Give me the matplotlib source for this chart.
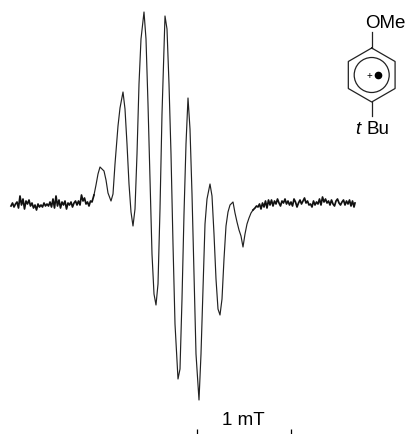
import numpy as np
import matplotlib
matplotlib.use('Agg')
import matplotlib.pyplot as plt

# trace (field position, signal above the baseline)
left_x = [11, 12.5, 14, 15.5, 17, 18.5, 20, 21.5, 23, 24.5, 26, 27.5, 29, 30.5, 32, 33.5, 35, 36.5, 38, 39.5,
          41, 42.5, 44, 45.5, 47, 48.5, 50, 51.5, 53, 54.5, 56, 57.5, 59, 60.5, 62, 63.5, 65, 66.5, 68, 69.5,
          71, 72.5, 74, 75.5, 77, 78.5, 80, 81.5, 83, 84.5, 86, 87.5, 89, 90.5, 92]
left_y = [-2, 1, -3, 0, 2, -4, 8, -1, 5, -5, 3, 0, 4, -2, 1, -4, -1, -6, 0, -3,
          -1, -3, 1, -2, 0, -2, 2, -3, 5, -4, 8, -2, 4, -4, 2, -1, 3, -5, 1, -1,
          2, -3, 1, 3, -1, 3, -1, 9, 3, 6, 0, 2, -2, 3, 2]
band_x = [94, 96, 98, 100, 102, 104, 106, 108, 111, 113, 115, 118, 120, 123, 125, 127, 129, 131, 133, 135, 137, 139, 141,
          144, 146, 148, 150, 152, 154, 156, 158, 160, 162, 165, 167, 169, 171, 173, 175, 178, 180, 182, 184, 186,
          188, 190, 192, 194, 196, 199, 201, 203, 205, 207, 210, 212, 214, 216, 218, 220, 222, 224, 226, 228, 230,
          233, 235, 237, 239, 241, 243, 245, 247, 249, 251, 253]
band_y = [9, 19, 30, 37, 35, 33, 24, 11, 3, 10, 40, 78, 96, 112, 95, 60, 20, -8, -22, -5, 50, 120, 165,
          192, 165, 100, 25, -50, -90, -101, -80, -5, 90, 188, 175, 120, 50, -40, -120, -175, -165, -95, -10, 60,
          106, 75, 10, -70, -150, -196, -150, -85, -20, 5, 20, 8, -30, -75, -105, -111, -95, -55, -22, -8, -1,
          2, -9, -18, -26, -32, -43, -30, -20, -14, -9, -6]
right_x = [255, 256.5, 258, 259.5, 261, 262.5, 264, 265.5, 267, 268.5, 270, 271.5, 273, 274.5, 276, 277.5, 279, 280.5, 282, 283.5,
           285, 286.5, 288, 289.5, 291, 292.5, 294, 295.5, 297, 298.5, 300, 301.5, 303, 304.5, 306, 307.5, 309, 310.5, 312, 313.5,
           315, 316.5, 318, 319.5, 321, 322.5, 324, 325.5, 327, 328.5, 330, 331.5, 333, 334.5, 336, 337.5, 339, 340.5, 342, 343.5,
           345, 346.5, 348, 349.5, 351, 352.5, 354, 355]
right_y = [-4, -2, -3, 0, -5, 1, -3, 3, -4, 4, -1, 4, -2, 3, 0, 5, 1, -2, 3, 1,
           5, 0, 3, -1, 2, -2, 5, 2, -3, 1, 4, 0, 3, 6, 1, 3, -1, 0, -3, 3,
           -1, 2, 0, 5, -1, 7, 2, 5, 1, 3, -1, 4, 0, -2, 3, 5, 1, -1, 2, 4,
           -1, 3, 0, 4, -2, 3, -3, 1]
# 1 mT scale bar ends
scale_x = [197, 291]

# hexagon angles for the ring drawing
ring_angles = [90, 30, -30, -90, -150, 150]

plt.rcParams['font.family'] = ['Liberation Sans', 'DejaVu Sans']

fig = plt.figure(figsize=(4.06, 4.35), dpi=100)
ax = fig.add_axes([0, 0, 1, 1])
ax.set_xlim(0, 406)
ax.set_ylim(-230, 205)
ax.axis('off')

# the noisy ends print heavier than the steep lines in the middle
ax.plot(band_x, band_y, color='#222222', lw=0.85)
ax.plot(left_x + band_x[:1], left_y + band_y[:1], color='#111111', lw=1.25)
ax.plot(band_x[-1:] + right_x, band_y[-1:] + right_y, color='#111111', lw=1.25)

# scale bar
ax.vlines(scale_x, -230, -225, color='black', lw=0.9)
ax.text(243.5, -216, '1 mT', ha='center', va='center', fontsize=13.5)

# molecule, center of ring
cx, cy = 371.7, 129
t = np.radians(ring_angles + ring_angles[:1])
ax.plot(cx + 27 * np.cos(t), cy + 27 * np.sin(t), color='#222222', lw=0.9)
ax.add_patch(plt.Circle((cx, cy), 17.5, fill=False, ec='#222222', lw=0.9))
ax.plot([cx, cx], [cy + 27, cy + 43], color='#222222', lw=0.9)
ax.plot([cx, cx], [cy - 27, cy - 41], color='#222222', lw=0.9)
ax.plot([cx + 6.5], [cy], 'o', color='black', ms=4.5)
ax.text(cx - 2, cy, '+', ha='center', va='center', fontsize=7)
ax.text(385, 181, 'OMe', ha='center', va='center', fontsize=13.5)
ax.text(357.5, 75, 't', ha='center', va='center', fontsize=13.5, style='italic')
ax.text(378, 75, 'Bu', ha='center', va='center', fontsize=13.5)

fig.savefig('out.png', dpi=100)
